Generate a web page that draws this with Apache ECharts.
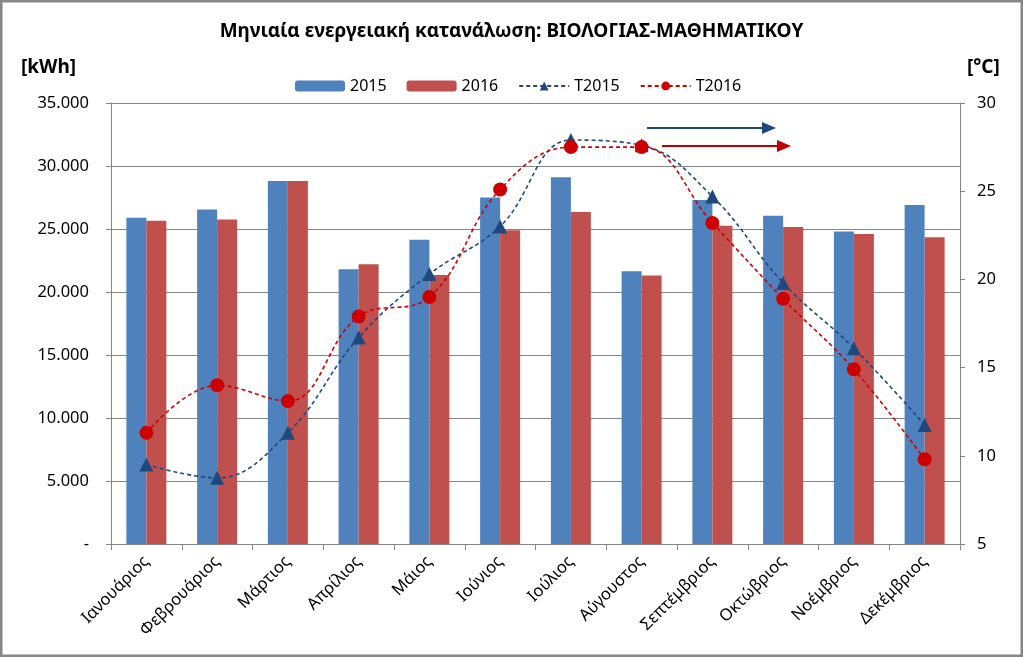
<!DOCTYPE html>
<html>
<head>
<meta charset="utf-8">
<script src="https://cdn.jsdelivr.net/npm/echarts@6/dist/echarts.min.js"></script>
<style>
  html, body { margin: 0; padding: 0; background: #fff; }
  #chart { width: 1023px; height: 657px; }
</style>
</head>
<body>
<div id="chart"></div>
<script>
const months = ['Ιανουάριος', 'Φεβρουάριος', 'Μάρτιος', 'Απρίλιος', 'Μάιος', 'Ιούνιος',
    'Ιούλιος', 'Αύγουστος', 'Σεπτέμβριος', 'Οκτώβριος', 'Νοέμβριος', 'Δεκέμβριος']
const kwh2015 = [25900, 26550, 28800, 21800, 24150, 27500, 29100, 21650, 27300, 26050, 24800, 26900]
const kwh2016 = [25650, 25750, 28800, 22200, 21350, 24900, 26350, 21300, 25250, 25150, 24600, 24350]
const t2015 = [9.5, 8.75, 11.3, 16.7, 20.3, 23.0, 27.9, 27.6, 24.7, 19.8, 16.1, 11.75]
const t2016 = [11.3, 14.0, 13.1, 17.9, 19.0, 25.1, 27.5, 27.5, 23.2, 18.9, 14.9, 9.8]

const font = 'Noto Sans'
var chart = echarts.init(document.getElementById('chart'))

function fmtKwh(v) {
    if (v === 0) return '-'
    return String(v).replace(/\B(?=(\d{3})+(?!\d))/g, '.')
}

var option = {
    backgroundColor: '#fff',
    animation: false,
    textStyle: { fontFamily: font },
    title: {
        text: 'Μηνιαία ενεργειακή κατανάλωση: ΒΙΟΛΟΓΙΑΣ-ΜΑΘΗΜΑΤΙΚΟΥ',
        left: 'center',
        top: 17,
        textStyle: { fontSize: 19, fontWeight: 'bold', color: '#000', fontFamily: font }
    },
    legend: {
        left: 290,
        top: 73,
        itemWidth: 50,
        itemHeight: 11,
        itemGap: 20,
        textStyle: { fontSize: 16, color: '#000' },
        data: ['2015', '2016', 'T2015', 'T2016']
    },
    grid: { left: 111, right: 63, top: 103, bottom: 113 },
    graphic: [{
        type: 'rect',
        shape: { x: 1, y: 1, width: 1021, height: 655 },
        style: { fill: 'none', stroke: '#868686', lineWidth: 3 },
        silent: true
    }, {
        type: 'text', left: 21, top: 58,
        style: { text: '[kWh]', fontSize: 19, fontWeight: 'bold', fill: '#000', fontFamily: font }
    }, {
        type: 'text', left: 967, top: 58,
        style: { text: '[°C]', fontSize: 19, fontWeight: 'bold', fill: '#000', fontFamily: font }
    }, {
        type: 'line',
        shape: { x1: 647, y1: 128, x2: 764, y2: 128 },
        style: { stroke: '#1f497d', lineWidth: 2 }
    }, {
        type: 'polygon',
        shape: { points: [[762, 122], [776, 128], [762, 134]] },
        style: { fill: '#1f497d' }
    }, {
        type: 'line',
        shape: { x1: 662, y1: 146, x2: 779, y2: 146 },
        style: { stroke: '#c00000', lineWidth: 2 }
    }, {
        type: 'polygon',
        shape: { points: [[777, 140], [791, 146], [777, 152]] },
        style: { fill: '#c00000' }
    }],
    xAxis: {
        type: 'category',
        data: months,
        axisLine: { lineStyle: { color: '#868686' } },
        axisTick: { show: true, alignWithLabel: false, length: 6, lineStyle: { color: '#868686' } },
        axisLabel: { rotate: 45, fontSize: 16.5, color: '#000', margin: 15, interval: 0 }
    },
    yAxis: [{
        type: 'value',
        min: 0,
        max: 35000,
        interval: 5000,
        axisLine: { show: true, lineStyle: { color: '#868686' } },
        axisTick: { show: true, length: 5, lineStyle: { color: '#868686' } },
        axisLabel: { fontSize: 16.5, color: '#000', margin: 22, formatter: fmtKwh },
        splitLine: { show: true, lineStyle: { color: '#868686' } }
    }, {
        type: 'value',
        min: 5,
        max: 30,
        interval: 5,
        position: 'right',
        axisLine: { show: true, lineStyle: { color: '#868686' } },
        axisTick: { show: true, length: 5, lineStyle: { color: '#868686' } },
        axisLabel: { fontSize: 16.5, color: '#000', margin: 17 },
        splitLine: { show: false }
    }],
    series: [{
        name: '2015',
        type: 'bar',
        data: kwh2015,
        barWidth: 20,
        barGap: '0%',
        itemStyle: { color: '#4f81bd' }
    }, {
        name: '2016',
        type: 'bar',
        data: kwh2016,
        barWidth: 20,
        barGap: '0%',
        itemStyle: { color: '#c0504d' }
    }, {
        name: 'T2015',
        type: 'line',
        yAxisIndex: 1,
        data: t2015,
        smooth: 0.4,
        symbol: 'triangle',
        symbolSize: 14,
        itemStyle: { color: '#1f497d' },
        lineStyle: { color: '#1f497d', width: 1.6, type: [4, 3] },
        z: 5
    }, {
        name: 'T2016',
        type: 'line',
        yAxisIndex: 1,
        data: t2016,
        smooth: 0.4,
        symbol: 'circle',
        symbolSize: 14,
        itemStyle: { color: '#cc0000' },
        lineStyle: { color: '#cc0000', width: 1.6, type: [4, 3] },
        z: 6
    }]
}

chart.setOption(option)
</script>
</body>
</html>
